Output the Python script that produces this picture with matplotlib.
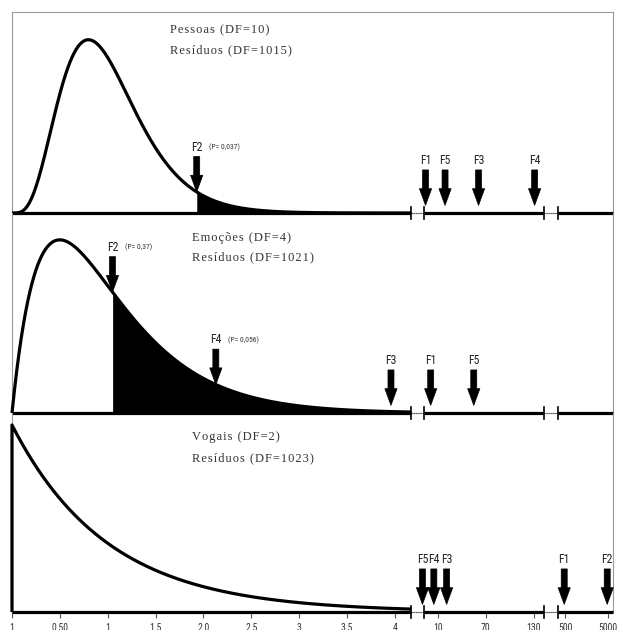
import math
import numpy as np
import matplotlib
matplotlib.use("Agg")
import matplotlib.pyplot as plt
from matplotlib import font_manager

# ---------------- data ----------------
effect_titles = ["Pessoas (DF=10)", "Emoções (DF=4)", "Vogais (DF=2)"]
resid_titles = ["Resíduos (DF=1015)", "Resíduos (DF=1021)", "Resíduos (DF=1023)"]
df1 = [10, 4, 2]
df2 = [1015, 1021, 1023]

top_labels = ["F2", "F1", "F5", "F3", "F4"]
top_F = [1.93, 5.7, 19, 61, 132]
mid_labels = ["F2", "F4", "F3", "F1", "F5"]
mid_F = [1.05, 2.13, 3.96, 7.5, 55]
bot_labels = ["F5", "F4", "F3", "F1", "F2"]
bot_F = [4.93, 8.6, 21, 486, 4895]

top_p = {"F2": "(P= 0,037)"}
mid_p = {"F2": "(P= 0,37)", "F4": "(P= 0,056)"}
bot_p = {}

shade_from = [1.93, 1.05, None]   # F value where shaded tail starts
on_curve = [{"F2"}, {"F2", "F4"}, set()]

tick_F = [0, 0.5, 1, 1.5, 2, 2.5, 3, 3.5, 4, 10, 70, 130, 500, 5000]
tick_text = ["1", "0.50", "1", "1.5", "2.0", "2.5", "3", "3.5", "4",
             "10", "70", "130", "500", "5000"]

# broken-axis scale: F value -> axis position
scale_F = [0, 4, 4.17, 5, 10, 70, 130, 150, 400, 500, 5000, 6000]
scale_u = [0, 4, 4.17, 4.30, 4.45, 4.95, 5.45, 5.56, 5.71, 5.78, 6.23, 6.28]
breaks = [(4.17, 4.30), (5.56, 5.71)]


def pos(F):
    return np.interp(F, scale_F, scale_u)


def fpdf(x, d1, d2):
    x = np.asarray(x, float)
    c = (math.lgamma((d1 + d2) / 2) - math.lgamma(d1 / 2) - math.lgamma(d2 / 2)
         + (d1 / 2) * math.log(d1 / d2))
    return np.exp(c + (d1 / 2 - 1) * np.log(x) - ((d1 + d2) / 2) * np.log1p(d1 * x / d2))


# ---------------- fonts ----------------
installed = {f.name for f in font_manager.fontManager.ttflist}
narrow_pref = ["Liberation Sans Narrow", "DejaVu Sans Condensed", "Roboto Condensed",
               "Open Sans Condensed"]
narrow_found = [n for n in narrow_pref if n in installed]
if narrow_found:
    narrow = [narrow_found[0], "DejaVu Sans"]
    lab_size = 8.5
else:
    narrow = ["Liberation Sans", "DejaVu Sans"]
    lab_size = 7.5
serif_pref = ["DejaVu Serif Condensed", "Liberation Serif"]
serif = [n for n in serif_pref if n in installed] + ["DejaVu Serif"]
gap = "\u200a"  # hair space: letter-spaced look of the original captions

# ---------------- figure ----------------
W, H = 625, 630
fig = plt.figure(figsize=(W / 100, H / 100), dpi=100)

left_px, right_px = 12, 613
panel_px = [(12, 213), (213, 413), (413, 612)]
headroom = [1.16, 1.155, 1.064]
all_labels = [top_labels, mid_labels, bot_labels]
all_F = [top_F, mid_F, bot_F]
all_p = [top_p, mid_p, bot_p]
title_pos = [(170, 30, 50), (192, 238, 257), (192, 437, 458)]
grey = "#9a9a9a"

xmax = pos(6000)
for i in range(3):
    t, b = panel_px[i]
    ax = fig.add_axes([left_px / W, 1 - b / H, (right_px - left_px) / W, (b - t) / H])
    ax.patch.set_visible(False)
    d1, d2 = df1[i], df2[i]
    xs = np.linspace(1e-6, 4.17, 1500)
    ys = fpdf(xs, d1, d2)
    if d1 <= 2:
        xs = np.concatenate([[0.0], xs])
        ys = np.concatenate([[0.0], ys])
    ymax = ys.max() * headroom[i]
    ax.set_xlim(0, xmax)
    ax.set_ylim(0, ymax)

    if shade_from[i] is not None:
        m = xs >= shade_from[i]
        ax.fill_between(pos(xs[m]), 0, ys[m], color="black", lw=0)

    ax.plot(pos(xs), ys, color="black", lw=2.3, solid_capstyle="butt",
            clip_on=False, zorder=4)

    # baseline pieces of the broken axis
    segs = [(0, breaks[0][0]), (breaks[0][1], breaks[1][0]), (breaks[1][1], xmax)]
    for a, c in segs:
        ax.plot([a, c], [0, 0], color="black", lw=2.3, solid_capstyle="butt",
                clip_on=False, zorder=4)
    for a, c in breaks:
        ax.plot([a, c], [0, 0], color="#555555", lw=0.8, ls=(0, (1, 1)),
                clip_on=False, zorder=4)
        for xb in (a, c):
            ax.plot([xb, xb], [-ymax * 0.03, ymax * 0.03], color="black", lw=1.2,
                    clip_on=False, zorder=5)

    # arrows
    for lab, Fv in zip(all_labels[i], all_F[i]):
        xp = float(pos(Fv))
        if lab in on_curve[i]:
            ytip = float(fpdf(Fv, d1, d2))
            shrink = 0
        else:
            ytip = 0.0
            shrink = 5.5
        ax.annotate("", xy=(xp, ytip), xytext=(0, 31 if shrink else 25.5),
                    textcoords="offset points",
                    arrowprops=dict(arrowstyle="simple,head_length=0.75,head_width=0.55,tail_width=0.27",
                                    fc="black", ec="black", lw=0.5,
                                    shrinkA=0, shrinkB=shrink, mutation_scale=16),
                    zorder=6, annotation_clip=False)
        ax.annotate(lab, xy=(xp, ytip), xytext=(0, 33 if shrink else 27.5),
                    textcoords="offset points", ha="center", va="bottom",
                    fontsize=lab_size, family=narrow, color="#222222", zorder=6,
                    annotation_clip=False)
        if lab in all_p[i]:
            ax.annotate(all_p[i][lab], xy=(xp, ytip), xytext=(9, 29.5),
                        textcoords="offset points", ha="left", va="bottom",
                        fontsize=5.5, family=narrow, color="#333333",
                        annotation_clip=False)

    # captions
    tx, ty1, ty2 = title_pos[i]
    fig.text(tx / W, 1 - ty1 / H, gap.join(effect_titles[i]), fontsize=9,
             family=serif, color="#333333", va="center", ha="left")
    fig.text(tx / W, 1 - ty2 / H, gap.join(resid_titles[i]), fontsize=9,
             family=serif, color="#333333", va="center", ha="left")

    for s in ("left", "right", "top", "bottom"):
        ax.spines[s].set_color(grey)
        ax.spines[s].set_linewidth(0.8)
    if i != 0:
        ax.spines["top"].set_visible(False)
    ax.set_yticks([])
    if i == 2:
        ax.set_xticks(pos(tick_F))
        ax.set_xticklabels(tick_text, fontsize=7, family=narrow, color="#333333")
        ax.tick_params(axis="x", length=4, width=0.8, color="#555555", pad=4)
    else:
        ax.set_xticks([])

fig.savefig("out.png", dpi=100)
